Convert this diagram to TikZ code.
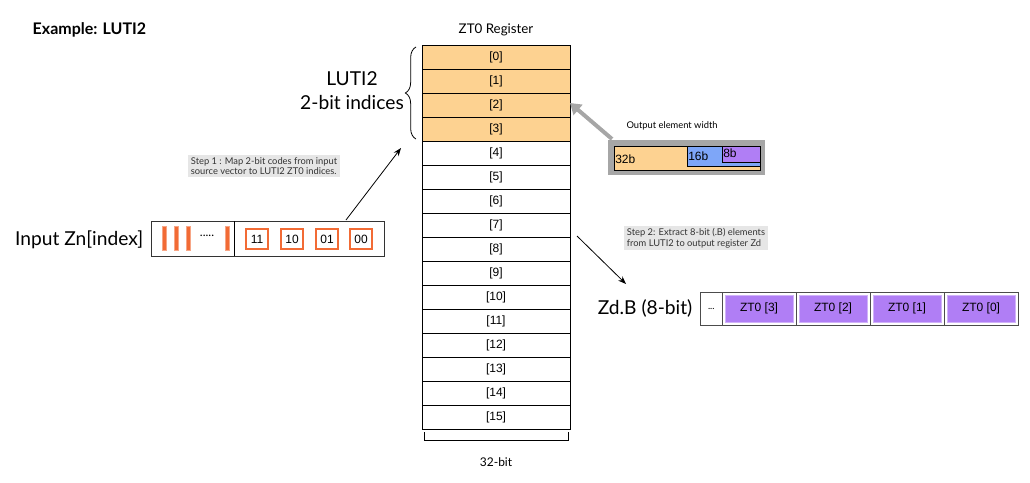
\documentclass[tikz,border=0pt]{standalone}
\usepackage{fontspec}
\setmainfont{Lato}
\newfontfamily\arialf{Liberation Sans}
\usetikzlibrary{decorations.pathreplacing,arrows.meta}
\definecolor{org}{HTML}{FDD291}
\definecolor{oline}{HTML}{F26B35}
\definecolor{purp}{HTML}{B07EF5}
\definecolor{blu}{HTML}{7EA6F8}
\definecolor{stepbg}{HTML}{E6E6E6}
\tikzset{
 cell/.style={draw=black,line width=0.6pt,minimum width=111pt,minimum height=18pt,inner sep=0pt,font=\arialf\small},
 codebox/.style={draw=oline,line width=1.6pt,fill=white,minimum width=17pt,minimum height=15pt,inner sep=0pt,font=\arialf\small},
 bar/.style={fill=oline,draw=oline!60,minimum width=3pt,minimum height=18pt,inner sep=0pt},
 stepnote/.style={fill=stepbg,font=\scriptsize,align=left,inner sep=2pt,text=black!80},
 zcell/.style={draw=black!70,line width=0.5pt,fill=white,minimum width=55.5pt,minimum height=24.75pt,inner sep=0pt},
 zin/.style={fill=purp,draw=purp!60,minimum width=51pt,minimum height=20pt,inner sep=0pt,font=\arialf\small},
 arr/.style={-{Stealth[length=6pt]},line width=0.6pt}
}
\begin{document}
\begin{tikzpicture}[x=0.75pt,y=-0.75pt]
\useasboundingbox (0,0) rectangle (1030,482);
\node[anchor=west,font=\bfseries\large] (title) at (28,30) {Example: LUTI2};
\node[font=\normalsize] (ztt) at (496,30) {ZT0 Register};
\foreach \k in {0,...,15}{
 \ifnum\k<4 \def\fc{org}\else\def\fc{white}\fi
 \node[cell,fill=\fc] (r\k) at (496,{57+24*\k}) {[\k]};
}
\draw[decorate,decoration={brace,amplitude=8pt},line width=0.6pt] (416,139) -- (416,47) coordinate (bt);
\node[align=center,font=\Large] (lab) at (352,91) {LUTI2\\2-bit indices};
\draw[line width=0.6pt] (424,432) -- (424,440) -- (568,440) -- (568,432);
\coordinate (bb) at (496,440);
\node (w32) at (496,462) {\small 32-bit};
% input
\node[font=\Large,anchor=east] (inl) at (148,240) {Input Zn[index]};
\node[draw=black!80,line width=0.6pt,minimum width=174.75pt,minimum height=26.25pt,inner sep=0pt,anchor=north west] (inbox) at (151,221) {};
\draw[line width=0.6pt] (234,221) -- (234,256);
\foreach \xx/\n in {164/b1,176/b2,188/b3,227/b4}{\node[bar] (\n) at (\xx,238.5) {};}
\node (dots) at (207,236) {\small .....};
\node[codebox] (c11) at (257,239) {11};
\node[codebox] (c10) at (292,239) {10};
\node[codebox] (c01) at (327,239) {01};
\node[codebox] (c00) at (361,239) {00};
\node[stepnote] (s1) at (264,166) {Step 1 : Map 2-bit codes from input\\source vector to LUTI2 ZT0 indices.};
\coordinate (a1s) at (346,220);
\coordinate (a1e) at (401,148);
\draw[arr] (a1s) -- (a1e);
% output element width
\node[font=\scriptsize] (oew) at (672,126) {Output element width};
\node[fill=black!35,minimum width=117.75pt,minimum height=26.25pt,inner sep=0pt,anchor=north west] (gbox) at (608,140) {};
\node[fill=org,draw=black,line width=0.5pt,minimum width=109.5pt,minimum height=18pt,inner sep=0pt,anchor=north west] (o32) at (614,146) {};
\node[fill=blu,draw=black,line width=0.5pt,minimum width=54.75pt,minimum height=15pt,inner sep=0pt,anchor=north west] (o16) at (687,146) {};
\node[fill=purp,draw=black,line width=0.5pt,minimum width=28.5pt,minimum height=12pt,inner sep=0pt,anchor=north west] (o8) at (722,146) {};
\node[anchor=west,font=\arialf\small,inner sep=0pt] (t32) at (615,159) {32b};
\node[anchor=west,font=\arialf\small,inner sep=0pt] (t16) at (688,156) {16b};
\node[anchor=west,font=\arialf\small,inner sep=0pt] (t8) at (723,153) {8b};
\coordinate (g1) at (612,139);
\coordinate (g2) at (570,103);
\draw[-{Triangle[length=8pt,width=10pt]},line width=3pt,draw=black!35] (g1) -- (g2);
% step 2
\node[stepnote] (s2) at (696,238) {Step 2: Extract 8-bit (.B) elements\\from LUTI2 to output register Zd};
\coordinate (a2s) at (577,236);
\coordinate (a2e) at (626,284);
\draw[arr] (a2s) -- (a2e);
\node[font=\Large,anchor=east] (zdl) at (697,308) {Zd.B (8-bit)};
\node[draw=black!70,line width=0.5pt,minimum width=16.5pt,minimum height=24.75pt,inner sep=0pt,anchor=north west,font=\scriptsize] (zdots) at (700,292) {...};
\foreach \i/\v in {0/3,1/2,2/1,3/0}{
 \node[zcell] (z\i) at ({759+74*\i},308.5) {};
 \node[zin] (zi\i) at ({759+74*\i},308.5) {ZT0 [\v]};
}
\end{tikzpicture}
\end{document}
